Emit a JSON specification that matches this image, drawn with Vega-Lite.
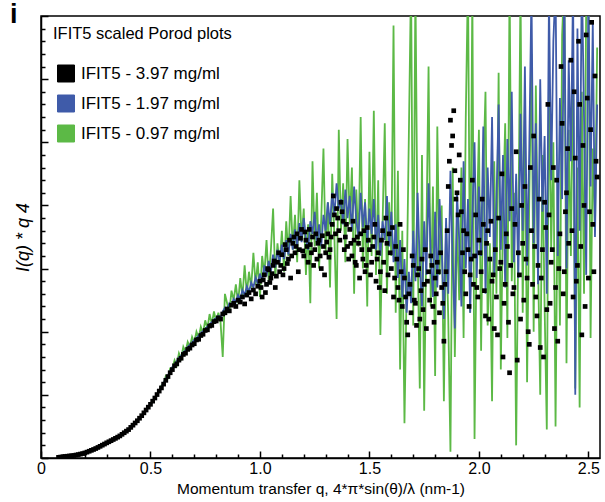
{
"$schema": "https://vega.github.io/schema/vega-lite/v6.json",
"width": 559, "height": 442,
"autosize": {"type": "none"},
"padding": {"left": 41, "top": 16, "right": 5, "bottom": 44},
"background": "white",
"config": {"font": "Liberation Sans", "view": {"stroke": "black", "strokeWidth": 1.5}},
"title": {"text": "i", "fontSize": 27, "fontWeight": "bold", "font": "Liberation Sans", "anchor": "start", "frame": "group", "dx": -31, "offset": 0, "baseline": "alphabetic", "dy": 35, "color": "black"},
"data": {"values": [
{"q":0.08,"k":0.01,"b":0.01,"c":0.01},{"q":0.09,"k":0.015,"b":0.015,"c":0.015},{"q":0.10,"k":0.02,"b":0.02,"c":0.02},{"q":0.11,"k":0.024,"b":0.024,"c":0.024},{"q":0.12,"k":0.028,"b":0.028,"c":0.028},{"q":0.13,"k":0.032,"b":0.032,"c":0.032},{"q":0.14,"k":0.036,"b":0.036,"c":0.036},{"q":0.15,"k":0.04,"b":0.04,"c":0.04},{"q":0.16,"k":0.047,"b":0.047,"c":0.047},{"q":0.17,"k":0.054,"b":0.054,"c":0.054},{"q":0.18,"k":0.062,"b":0.062,"c":0.062},{"q":0.19,"k":0.07,"b":0.07,"c":0.07},{"q":0.20,"k":0.08,"b":0.08,"c":0.08},{"q":0.21,"k":0.093,"b":0.093,"c":0.093},{"q":0.22,"k":0.107,"b":0.107,"c":0.107},{"q":0.23,"k":0.121,"b":0.121,"c":0.121},{"q":0.24,"k":0.135,"b":0.135,"c":0.135},{"q":0.25,"k":0.15,"b":0.15,"c":0.15},{"q":0.26,"k":0.167,"b":0.167,"c":0.167},{"q":0.27,"k":0.185,"b":0.185,"c":0.185},{"q":0.28,"k":0.203,"b":0.203,"c":0.203},{"q":0.29,"k":0.221,"b":0.221,"c":0.221},{"q":0.30,"k":0.24,"b":0.24,"c":0.24},{"q":0.31,"k":0.257,"b":0.257,"c":0.257},{"q":0.32,"k":0.275,"b":0.275,"c":0.275},{"q":0.33,"k":0.293,"b":0.293,"c":0.293},{"q":0.34,"k":0.311,"b":0.311,"c":0.311},{"q":0.35,"k":0.33,"b":0.33,"c":0.33},{"q":0.36,"k":0.35,"b":0.35,"c":0.35},{"q":0.37,"k":0.375,"b":0.375,"c":0.375},{"q":0.38,"k":0.40,"b":0.40,"c":0.40},{"q":0.39,"k":0.425,"b":0.425,"c":0.425},{"q":0.40,"k":0.45,"b":0.45,"c":0.45},{"q":0.41,"k":0.485,"b":0.485,"c":0.485},{"q":0.42,"k":0.52,"b":0.52,"c":0.52},{"q":0.43,"k":0.555,"b":0.555,"c":0.555},{"q":0.44,"k":0.59,"b":0.59,"c":0.59},{"q":0.45,"k":0.63,"b":0.63,"c":0.63},{"q":0.46,"k":0.67,"b":0.67,"c":0.67},{"q":0.47,"k":0.715,"b":0.715,"c":0.715},{"q":0.48,"k":0.76,"b":0.76,"c":0.76},{"q":0.49,"k":0.805,"b":0.805,"c":0.805},{"q":0.50,"k":0.85,"b":0.85,"c":0.85},{"q":0.51,"k":0.9,"b":0.9,"c":0.9},{"q":0.52,"k":0.95,"b":0.95,"c":0.95},{"q":0.53,"k":1.005,"b":1.005,"c":1.005},{"q":0.54,"k":1.06,"b":1.06,"c":1.06},
{"q":0.55,"k":1.11,"b":1.13,"c":1.15},{"q":0.56,"k":1.17,"b":1.19,"c":1.16},{"q":0.57,"k":1.23,"b":1.26,"c":1.30},{"q":0.58,"k":1.29,"b":1.31,"c":1.27},{"q":0.59,"k":1.35,"b":1.38,"c":1.42},{"q":0.60,"k":1.40,"b":1.44,"c":1.42},{"q":0.61,"k":1.46,"b":1.48,"c":1.55},{"q":0.62,"k":1.49,"b":1.53,"c":1.47},{"q":0.63,"k":1.55,"b":1.59,"c":1.66},{"q":0.64,"k":1.58,"b":1.62,"c":1.58},{"q":0.65,"k":1.64,"b":1.68,"c":1.76},{"q":0.66,"k":1.66,"b":1.70,"c":1.68},{"q":0.67,"k":1.72,"b":1.76,"c":1.84},{"q":0.68,"k":1.74,"b":1.79,"c":1.76},{"q":0.69,"k":1.79,"b":1.83,"c":1.92},{"q":0.70,"k":1.81,"b":1.87,"c":1.83},{"q":0.71,"k":1.87,"b":1.90,"c":2.00},{"q":0.72,"k":1.88,"b":1.94,"c":1.90},{"q":0.73,"k":1.94,"b":1.98,"c":2.08},{"q":0.74,"k":1.96,"b":2.01,"c":1.98},{"q":0.75,"k":2.02,"b":2.05,"c":2.18},{"q":0.76,"k":2.03,"b":2.08,"c":2.05},{"q":0.77,"k":2.09,"b":2.12,"c":2.28},{"q":0.78,"k":2.10,"b":2.15,"c":2.12},{"q":0.79,"k":2.16,"b":2.19,"c":2.32},{"q":0.80,"k":2.17,"b":2.22,"c":2.16},
{"q":0.81,"k":2.22,"b":2.25,"c":2.30},{"q":0.82,"k":2.20,"b":2.22,"c":2.15},{"q":0.83,"k":2.28,"b":2.32,"c":1.60},{"q":0.84,"k":2.30,"b":2.38,"c":2.60},{"q":0.85,"k":2.36,"b":2.35,"c":2.45},{"q":0.86,"k":2.33,"b":2.45,"c":2.30},{"q":0.87,"k":2.42,"b":2.42,"c":2.65},{"q":0.88,"k":2.45,"b":2.52,"c":2.50},{"q":0.89,"k":2.40,"b":2.47,"c":2.75},{"q":0.90,"k":2.50,"b":2.58,"c":2.45},
{"q":0.91,"k":2.47,"b":2.52,"c":2.85},{"q":0.92,"k":2.55,"b":2.66,"c":2.55},{"q":0.93,"k":2.44,"b":2.58,"c":3.05},{"q":0.94,"k":2.58,"b":2.72,"c":2.60},{"q":0.95,"k":2.62,"b":2.63,"c":2.95},{"q":0.96,"k":2.52,"b":2.78,"c":2.70},{"q":0.97,"k":2.66,"b":2.70,"c":3.25},{"q":0.98,"k":2.60,"b":2.86,"c":2.75},{"q":0.99,"k":2.72,"b":2.76,"c":3.10},{"q":1.00,"k":2.80,"b":2.92,"c":2.55},
{"q":1.01,"k":2.55,"b":2.80,"c":3.20},{"q":1.02,"k":2.90,"b":3.05,"c":2.90},{"q":1.03,"k":2.75,"b":2.88,"c":3.45},{"q":1.04,"k":2.98,"b":3.12,"c":2.80},{"q":1.05,"k":2.85,"b":2.95,"c":3.30},{"q":1.06,"k":3.05,"b":3.22,"c":3.95},{"q":1.07,"k":2.70,"b":3.02,"c":2.85},{"q":1.08,"k":3.10,"b":3.30,"c":3.40},{"q":1.09,"k":2.95,"b":3.10,"c":3.05},{"q":1.10,"k":3.22,"b":3.38,"c":3.60},
{"q":1.11,"k":3.00,"b":3.15,"c":2.95},{"q":1.12,"k":3.30,"b":3.45,"c":3.75},{"q":1.13,"k":3.15,"b":3.22,"c":3.20},{"q":1.14,"k":2.85,"b":3.55,"c":4.15},{"q":1.15,"k":3.40,"b":3.30,"c":3.30},{"q":1.16,"k":3.25,"b":3.62,"c":3.85},{"q":1.17,"k":3.55,"b":3.35,"c":3.10},{"q":1.18,"k":3.30,"b":3.72,"c":4.40},{"q":1.19,"k":3.62,"b":3.42,"c":3.45},{"q":1.20,"k":3.20,"b":3.80,"c":3.95},
{"q":1.21,"k":3.45,"b":3.48,"c":2.90},{"q":1.22,"k":3.10,"b":3.30,"c":3.70},{"q":1.23,"k":3.38,"b":3.75,"c":2.45},{"q":1.24,"k":3.50,"b":3.55,"c":4.70},{"q":1.25,"k":3.30,"b":3.90,"c":3.35},{"q":1.26,"k":3.15,"b":3.40,"c":4.20},{"q":1.27,"k":3.45,"b":3.70,"c":3.00},{"q":1.28,"k":3.00,"b":3.35,"c":3.80},{"q":1.29,"k":3.35,"b":3.85,"c":4.90},{"q":1.30,"k":3.25,"b":3.60,"c":3.25},
{"q":1.31,"k":3.55,"b":4.05,"c":4.05},{"q":1.32,"k":3.30,"b":3.70,"c":2.70},{"q":1.33,"k":3.70,"b":4.20,"c":4.50},{"q":1.34,"k":3.85,"b":3.85,"c":3.50},{"q":1.35,"k":3.95,"b":4.35,"c":2.20},{"q":1.36,"k":3.60,"b":3.95,"c":5.20},{"q":1.37,"k":4.05,"b":4.10,"c":3.60},{"q":1.38,"k":3.75,"b":3.70,"c":4.35},{"q":1.39,"k":3.50,"b":4.25,"c":3.10},{"q":1.40,"k":3.35,"b":3.80,"c":5.05},
{"q":1.41,"k":3.62,"b":4.15,"c":3.70},{"q":1.42,"k":3.20,"b":3.60,"c":4.60},{"q":1.43,"k":3.45,"b":4.30,"c":2.60},{"q":1.44,"k":3.05,"b":3.75,"c":4.25},{"q":1.45,"k":3.40,"b":3.50,"c":3.35},{"q":1.46,"k":3.55,"b":4.20,"c":5.40},{"q":1.47,"k":3.15,"b":3.65,"c":3.00},{"q":1.48,"k":2.95,"b":4.05,"c":4.10},{"q":1.49,"k":3.65,"b":3.40,"c":2.40},{"q":1.50,"k":3.30,"b":3.95,"c":4.85},
{"q":1.51,"k":3.10,"b":3.55,"c":3.20},{"q":1.52,"k":3.50,"b":4.10,"c":5.50},{"q":1.53,"k":2.80,"b":3.30,"c":2.90},{"q":1.54,"k":3.25,"b":3.85,"c":4.40},{"q":1.55,"k":2.95,"b":3.20,"c":1.95},{"q":1.56,"k":3.60,"b":3.75,"c":3.70},{"q":1.57,"k":2.65,"b":3.45,"c":5.30},{"q":1.58,"k":3.40,"b":4.15,"c":2.60},{"q":1.59,"k":3.55,"b":3.35,"c":4.05},{"q":1.60,"k":3.00,"b":3.90,"c":3.20},
{"q":1.61,"k":2.55,"b":3.10,"c":6.85},{"q":1.62,"k":3.35,"b":3.70,"c":2.30},{"q":1.63,"k":2.70,"b":2.85,"c":4.55},{"q":1.64,"k":3.70,"b":3.45,"c":1.40},{"q":1.65,"k":2.40,"b":2.55,"c":3.60},{"q":1.66,"k":2.85,"b":3.15,"c":0.55},{"q":1.67,"k":2.15,"b":2.30,"c":2.70},{"q":1.68,"k":2.60,"b":2.95,"c":5.10},{"q":1.69,"k":2.30,"b":2.45,"c":7.60},{"q":1.70,"k":3.05,"b":3.60,"c":2.10},
{"q":1.71,"k":2.45,"b":2.80,"c":7.50},{"q":1.72,"k":2.90,"b":4.20,"c":3.30},{"q":1.73,"k":2.20,"b":3.05,"c":1.10},{"q":1.74,"k":3.15,"b":2.40,"c":4.80},{"q":1.75,"k":2.75,"b":3.75,"c":0.75},{"q":1.76,"k":2.05,"b":2.90,"c":3.50},{"q":1.77,"k":2.95,"b":4.35,"c":6.20},{"q":1.78,"k":3.20,"b":3.20,"c":2.40},{"q":1.79,"k":2.40,"b":2.55,"c":4.30},{"q":1.80,"k":2.85,"b":3.90,"c":1.30},
{"q":1.81,"k":3.10,"b":2.70,"c":5.25},{"q":1.82,"k":2.30,"b":4.10,"c":2.90},{"q":1.83,"k":2.70,"b":3.35,"c":4.00},{"q":1.84,"k":1.85,"b":2.20,"c":0.90},{"q":1.85,"k":2.95,"b":3.80,"c":3.70},{"q":1.86,"k":4.30,"b":2.60,"c":2.20},{"q":1.87,"k":5.35,"b":4.55,"c":0.10},{"q":1.88,"k":5.10,"b":3.10,"c":4.60},{"q":1.89,"k":4.55,"b":2.05,"c":1.60},{"q":1.90,"k":4.20,"b":4.20,"c":3.80},
{"q":1.91,"k":4.80,"b":3.45,"c":2.50},{"q":1.92,"k":3.90,"b":2.40,"c":4.60},{"q":1.93,"k":3.60,"b":4.70,"c":1.90},{"q":1.94,"k":2.60,"b":3.00,"c":5.40},{"q":1.95,"k":3.30,"b":4.10,"c":7.60},{"q":1.96,"k":2.90,"b":2.30,"c":2.30},{"q":1.97,"k":4.40,"b":3.85,"c":7.40},{"q":1.98,"k":3.20,"b":5.00,"c":0.30},{"q":1.99,"k":2.70,"b":2.85,"c":3.60},{"q":2.00,"k":3.45,"b":4.30,"c":5.20},
{"q":2.01,"k":2.95,"b":3.20,"c":1.70},{"q":2.02,"k":3.70,"b":5.25,"c":4.50},{"q":2.03,"k":2.25,"b":2.60,"c":5.80},{"q":2.04,"k":3.60,"b":4.60,"c":2.10},{"q":2.05,"k":3.15,"b":3.50,"c":3.40},{"q":2.06,"k":2.80,"b":5.40,"c":0.90},{"q":2.07,"k":2.05,"b":2.90,"c":4.70},{"q":2.08,"k":2.55,"b":4.05,"c":2.60},{"q":2.09,"k":3.80,"b":5.60,"c":6.10},{"q":2.10,"k":3.10,"b":3.30,"c":1.40},
{"q":2.11,"k":1.60,"b":4.80,"c":3.90},{"q":2.12,"k":2.75,"b":2.70,"c":5.30},{"q":2.13,"k":3.35,"b":5.05,"c":1.90},{"q":2.14,"k":1.35,"b":3.75,"c":7.60},{"q":2.15,"k":3.95,"b":5.80,"c":2.80},{"q":2.16,"k":2.70,"b":3.10,"c":4.20},{"q":2.17,"k":4.85,"b":4.50,"c":0.20},{"q":2.18,"k":3.25,"b":2.85,"c":3.50},{"q":2.19,"k":2.20,"b":5.45,"c":7.50},{"q":2.20,"k":3.40,"b":3.60,"c":2.30},
{"q":2.21,"k":4.30,"b":6.20,"c":5.60},{"q":2.22,"k":2.85,"b":3.05,"c":1.20},{"q":2.23,"k":1.80,"b":4.90,"c":4.10},{"q":2.24,"k":3.60,"b":7.40,"c":6.40},{"q":2.25,"k":5.10,"b":3.40,"c":2.00},{"q":2.26,"k":2.55,"b":5.30,"c":5.90},{"q":2.27,"k":3.05,"b":2.75,"c":3.10},{"q":2.28,"k":1.75,"b":6.00,"c":1.00},{"q":2.29,"k":3.30,"b":3.90,"c":4.80},{"q":2.30,"k":4.05,"b":5.10,"c":2.40},
{"q":2.31,"k":2.35,"b":2.60,"c":0.45},{"q":2.32,"k":3.85,"b":7.30,"c":6.10},{"q":2.33,"k":3.10,"b":4.40,"c":3.30},{"q":2.34,"k":4.60,"b":6.60,"c":5.00},{"q":2.35,"k":2.70,"b":7.50,"c":0.50},{"q":2.36,"k":1.85,"b":3.20,"c":4.40},{"q":2.37,"k":3.55,"b":5.70,"c":2.10},{"q":2.38,"k":5.30,"b":4.10,"c":6.70},{"q":2.39,"k":2.95,"b":7.60,"c":7.60},{"q":2.40,"k":4.20,"b":3.00,"c":1.50},
{"q":2.41,"k":3.40,"b":6.30,"c":5.20},{"q":2.42,"k":6.30,"b":4.70,"c":3.20},{"q":2.43,"k":2.55,"b":7.50,"c":6.30},{"q":2.44,"k":4.75,"b":1.00,"c":1.10},{"q":2.45,"k":3.05,"b":6.80,"c":4.60},{"q":2.46,"k":5.60,"b":3.60,"c":0.80},{"q":2.47,"k":1.95,"b":7.70,"c":5.80},{"q":2.48,"k":4.00,"b":5.40,"c":2.60},{"q":2.49,"k":6.70,"b":2.90,"c":7.20},{"q":2.50,"k":2.85,"b":7.40,"c":7.60},
{"q":2.51,"k":5.20,"b":4.30,"c":1.90},{"q":2.52,"k":3.70,"b":6.90,"c":4.90},{"q":2.53,"k":6.05,"b":3.50,"c":3.60},{"q":2.54,"k":4.45,"b":5.60,"c":6.50},
{"q":1.005,"k":2.70},{"q":1.015,"k":2.82},{"q":1.025,"k":2.62},{"q":1.035,"k":3.00},{"q":1.045,"k":2.78},{"q":1.055,"k":2.92},{"q":1.065,"k":3.12},{"q":1.075,"k":2.88},{"q":1.085,"k":3.25},{"q":1.095,"k":3.05},
{"q":1.105,"k":2.90},{"q":1.115,"k":3.38},{"q":1.125,"k":3.08},{"q":1.135,"k":3.45},{"q":1.145,"k":3.20},{"q":1.155,"k":3.50},{"q":1.165,"k":3.35},{"q":1.175,"k":2.95},{"q":1.185,"k":3.48},{"q":1.195,"k":3.28},
{"q":1.205,"k":3.58},{"q":1.215,"k":3.35},{"q":1.225,"k":3.62},{"q":1.235,"k":3.25},{"q":1.245,"k":3.05},{"q":1.255,"k":3.55},{"q":1.265,"k":3.40},{"q":1.275,"k":3.20},{"q":1.285,"k":3.52},{"q":1.295,"k":2.90},
{"q":1.305,"k":3.42},{"q":1.315,"k":3.18},{"q":1.325,"k":3.50},{"q":1.335,"k":4.15},{"q":1.345,"k":3.55},{"q":1.355,"k":3.80},{"q":1.365,"k":3.45},{"q":1.375,"k":3.90},{"q":1.385,"k":3.30},{"q":1.395,"k":3.70},
{"q":1.405,"k":3.15},{"q":1.415,"k":3.40},{"q":1.425,"k":3.75},{"q":1.435,"k":3.10},{"q":1.445,"k":3.50},{"q":1.455,"k":2.85},{"q":1.465,"k":3.30},{"q":1.475,"k":3.60},{"q":1.485,"k":3.05},{"q":1.495,"k":3.45},
{"q":1.505,"k":2.90},{"q":1.515,"k":3.35},{"q":1.525,"k":3.70},{"q":1.535,"k":3.15},{"q":1.545,"k":2.70},{"q":1.555,"k":3.45},{"q":1.565,"k":3.10},{"q":1.575,"k":3.80},{"q":1.585,"k":2.90},{"q":1.595,"k":3.25},
{"q":1.605,"k":3.65},{"q":1.615,"k":2.85},{"q":1.625,"k":3.15},{"q":1.635,"k":2.50},{"q":1.645,"k":2.95},{"q":1.655,"k":3.30},{"q":1.665,"k":2.55},{"q":1.675,"k":1.95},{"q":1.685,"k":2.75},{"q":1.695,"k":3.20},
{"q":1.705,"k":2.50},{"q":1.715,"k":2.10},{"q":1.725,"k":3.00},{"q":1.735,"k":2.65},{"q":1.745,"k":2.35},{"q":1.755,"k":3.30},{"q":1.765,"k":2.80},{"q":1.775,"k":2.50},{"q":1.785,"k":3.05},{"q":1.795,"k":2.15},
{"q":1.805,"k":2.60},{"q":1.815,"k":2.95},{"q":1.825,"k":3.25},{"q":1.835,"k":2.45},{"q":1.845,"k":2.75},{"q":1.855,"k":3.60},{"q":1.865,"k":4.70},{"q":1.875,"k":4.95},{"q":1.885,"k":5.50},{"q":1.895,"k":4.10},
{"q":1.905,"k":3.85},{"q":1.915,"k":4.40},{"q":1.925,"k":3.25},{"q":1.935,"k":2.95},{"q":1.945,"k":3.55},{"q":1.955,"k":2.40},{"q":1.965,"k":3.15},{"q":1.975,"k":2.75},{"q":1.985,"k":3.85},{"q":1.995,"k":2.55},
{"q":2.005,"k":3.25},{"q":2.015,"k":4.10},{"q":2.025,"k":2.65},{"q":2.035,"k":3.40},{"q":2.045,"k":2.20},{"q":2.055,"k":3.75},{"q":2.065,"k":2.90},{"q":2.075,"k":3.30},{"q":2.085,"k":1.95},{"q":2.095,"k":3.00},
{"q":2.105,"k":4.50},{"q":2.115,"k":2.45},{"q":2.125,"k":3.55},{"q":2.135,"k":2.15},{"q":2.145,"k":3.05},{"q":2.155,"k":2.60},{"q":2.165,"k":3.70},{"q":2.175,"k":1.55},{"q":2.185,"k":2.90},{"q":2.195,"k":4.00},
{"q":2.205,"k":2.50},{"q":2.215,"k":3.15},{"q":2.225,"k":2.00},{"q":2.235,"k":4.60},{"q":2.245,"k":2.75},{"q":2.255,"k":3.35},{"q":2.265,"k":2.25},{"q":2.275,"k":4.10},{"q":2.285,"k":2.85},{"q":2.295,"k":1.60},
{"q":2.305,"k":3.65},{"q":2.315,"k":5.60},{"q":2.325,"k":2.45},{"q":2.335,"k":3.30},{"q":2.345,"k":2.05},{"q":2.355,"k":4.40},{"q":2.365,"k":3.00},{"q":2.375,"k":6.20},{"q":2.385,"k":2.60},{"q":2.395,"k":3.90},
{"q":2.405,"k":4.90},{"q":2.415,"k":2.25},{"q":2.425,"k":3.60},{"q":2.435,"k":5.80},{"q":2.445,"k":2.80},{"q":2.455,"k":6.60},{"q":2.465,"k":3.35},{"q":2.475,"k":4.95},{"q":2.485,"k":2.40},{"q":2.495,"k":5.70},
{"q":2.505,"k":3.90},{"q":2.515,"k":6.90},{"q":2.525,"k":2.95},{"q":2.535,"k":4.70}
]},
"transform": [{"fold": ["k", "b", "c"], "as": ["s", "v"]}, {"filter": "isValid(datum.v)"}],
"resolve": {"axis": {"x": "independent", "y": "independent"}},
"layer": [
{
"transform": [{"filter": "datum.s == 'c'"}],
"mark": {"type": "line", "strokeWidth": 1.8, "clip": true},
"encoding": {
"x": {"field": "q", "type": "quantitative", "scale": {"domain": [0, 2.553], "nice": false}, "axis": {"orient": "bottom", "values": [0, 0.5, 1, 1.5, 2, 2.5], "tickSize": -7, "tickWidth": 1.5, "tickColor": "black", "domainColor": "black", "domainWidth": 1.5, "grid": false, "labelExpr": "datum.value == 0 ? '0' : format(datum.value, '.1f')", "labelFontSize": 16, "labelColor": "black", "labelPadding": 9, "labelFlush": false, "title": "Momentum transfer q, 4*π*sin(θ)/λ (nm-1)", "titleFontSize": 15.5, "titleFontWeight": "normal", "titleColor": "black", "titlePadding": 5}},
"y": {"field": "v", "type": "quantitative", "scale": {"domain": [0, 7], "nice": false}, "axis": {"orient": "left", "values": [0, 1, 2, 3, 4, 5, 6, 7], "tickSize": -7, "tickWidth": 1.5, "tickColor": "black", "domainColor": "black", "domainWidth": 1.5, "grid": false, "labels": false, "title": "I(q) * q 4", "titleFontSize": 18, "titleFontWeight": "normal", "titleFontStyle": "italic", "titleColor": "black", "titlePadding": 8}},
"color": {"field": "s", "type": "nominal", "scale": {"domain": ["k", "b", "c"], "range": ["#000000", "#3f5ba9", "#5cb946"]}, "legend": {"orient": "none", "legendX": 12, "legendY": 10, "title": "IFIT5 scaled Porod plots", "titleFontSize": 16.5, "titleFontWeight": "normal", "titleColor": "black", "titlePadding": 22, "symbolType": "square", "symbolSize": 289, "symbolOffset": 4, "rowPadding": 8, "labelFontSize": 17, "labelColor": "black", "labelOffset": 6, "padding": 0, "labelExpr": "datum.value == 'k' ? 'IFIT5 - 3.97 mg/ml' : datum.value == 'b' ? 'IFIT5 - 1.97 mg/ml' : 'IFIT5 - 0.97 mg/ml'", "encode": {"symbols": {"update": {"fill": {"scale": "color", "field": "value"}, "stroke": {"value": "#333333"}, "strokeWidth": {"value": 1}, "opacity": {"value": 1}, "shape": {"value": "square"}, "size": {"value": 289}}}}}}
}
},
{
"transform": [{"filter": "datum.s == 'b'"}],
"mark": {"type": "line", "strokeWidth": 1.8, "clip": true},
"encoding": {
"x": {"field": "q", "type": "quantitative", "axis": {"orient": "bottom", "values": [0.1,0.2,0.3,0.4,0.6,0.7,0.8,0.9,1.1,1.2,1.3,1.4,1.6,1.7,1.8,1.9,2.1,2.2,2.3,2.4], "tickSize": -4, "tickWidth": 1.5, "tickColor": "black", "domain": false, "grid": false, "labels": false, "title": null}},
"y": {"field": "v", "type": "quantitative", "axis": {"orient": "left", "values": [0.2,0.4,0.6,0.8,1.2,1.4,1.6,1.8,2.2,2.4,2.6,2.8,3.2,3.4,3.6,3.8,4.2,4.4,4.6,4.8,5.2,5.4,5.6,5.8,6.2,6.4,6.6,6.8], "tickSize": -4, "tickWidth": 1.5, "tickColor": "black", "domain": false, "grid": false, "labels": false, "title": null}},
"color": {"field": "s", "type": "nominal"}
}
},
{
"transform": [{"filter": "datum.s == 'k'"}],
"mark": {"type": "point", "shape": "square", "filled": true, "size": 22, "opacity": 1, "clip": true},
"encoding": {
"x": {"field": "q", "type": "quantitative", "axis": null},
"y": {"field": "v", "type": "quantitative", "axis": null},
"color": {"field": "s", "type": "nominal"}
}
}
]
}
